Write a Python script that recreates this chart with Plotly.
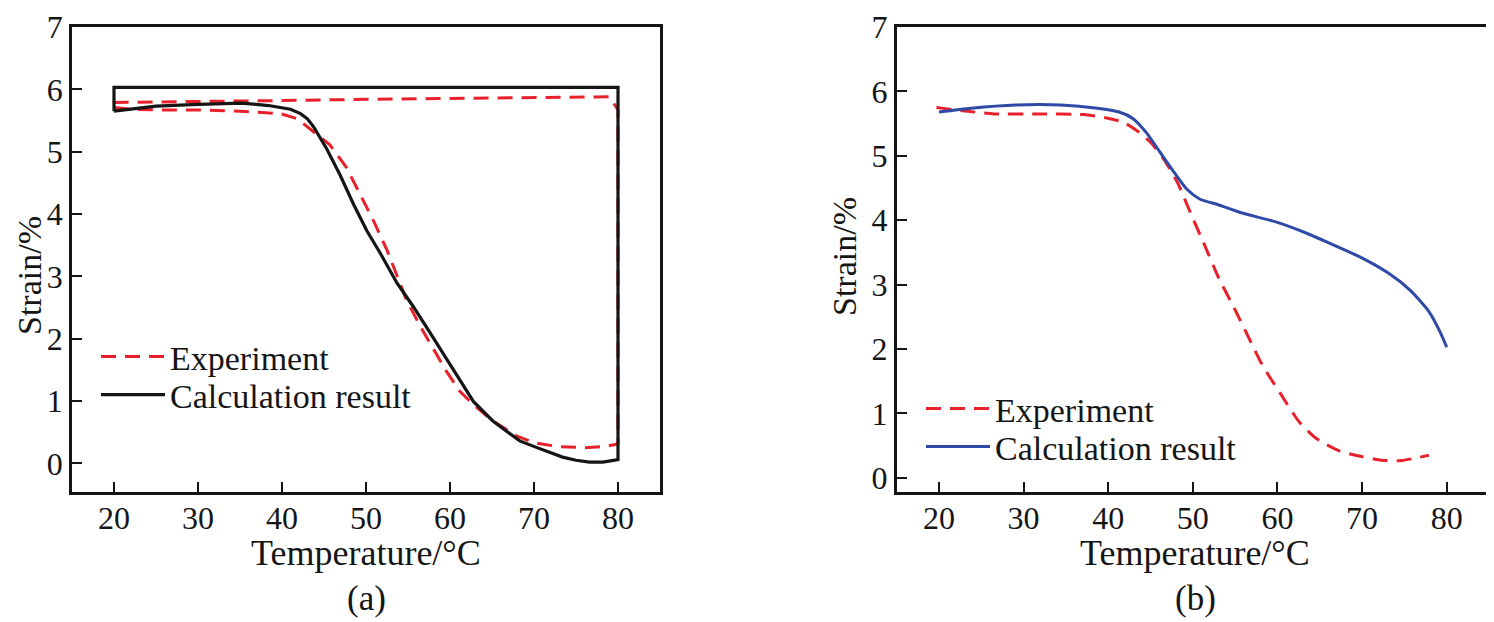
import plotly.graph_objects as go

# ---------------- data ----------------
# Panel (a): experiment loop (heating branch, then return along 80 °C and top branch)
a_exp_temp = [20, 22, 25, 30, 35, 38, 39.8, 41.8, 43.75, 45.7, 47.7, 49.3, 50.9, 52.5,
              53.7, 54.8, 56.4, 58.0, 59.6, 61.2, 62.8, 65.1, 67.9, 70.0, 72.8, 76.0,
              78.5, 80, 80, 79, 70, 60, 50, 40, 30, 20, 20]
a_exp_strain = [5.71, 5.68, 5.67, 5.67, 5.65, 5.63, 5.61, 5.53, 5.32, 5.11, 4.74, 4.31, 3.89, 3.42,
                3.0, 2.63, 2.21, 1.84, 1.47, 1.15, 0.94, 0.68, 0.44, 0.33, 0.27, 0.25,
                0.27, 0.31, 5.67, 5.88, 5.87, 5.86, 5.84, 5.82, 5.81, 5.79, 5.71]

# Panel (a): calculation loop
a_calc_temp = [20, 25, 30, 35.2, 38.4, 39.8, 41.0, 42.2, 43.0, 43.75, 44.5, 45.3, 46.9, 48.5,
               50.1, 51.7, 53.7, 55.6, 57.6, 59.6, 61.6, 62.8, 65.1, 68.3, 70.2, 71.8, 73.4,
               75.0, 76.6, 78.2, 80, 80, 20, 20]
a_calc_strain = [5.65, 5.73, 5.76, 5.78, 5.74, 5.71, 5.68, 5.61, 5.53, 5.40, 5.24, 5.05, 4.63, 4.16,
                 3.73, 3.37, 2.89, 2.52, 2.10, 1.68, 1.26, 0.99, 0.68, 0.36, 0.26, 0.175, 0.10,
                 0.05, 0.02, 0.02, 0.06, 6.03, 6.03, 5.65]

# Panel (b): experiment
b_exp_temp = [19.7, 22.8, 26.5, 31.8, 37.1, 39.7, 41.8, 43.4, 45.0, 46.6, 48.2, 49.8, 51.4,
              53.0, 55.1, 56.7, 58.3, 60.4, 62.5, 64.6, 67.3, 69.9, 72.6, 74.7, 77.9]
b_exp_strain = [5.75, 5.70, 5.65, 5.65, 5.64, 5.59, 5.52, 5.39, 5.21, 4.94, 4.58, 4.09, 3.61,
                3.12, 2.58, 2.15, 1.73, 1.30, 0.88, 0.61, 0.42, 0.33, 0.27, 0.27, 0.35]

# Panel (b): calculation
b_calc_temp = [20, 23.8, 29.1, 34.4, 38.7, 41.3, 42.9, 44.5, 46.1, 47.7, 49.3, 50.8, 53.0,
               55.6, 59.9, 63.6, 66.2, 69.9, 73.1, 75.7, 77.9, 79.2, 80]
b_calc_strain = [5.68, 5.74, 5.79, 5.79, 5.74, 5.68, 5.58, 5.36, 5.06, 4.76, 4.48, 4.33, 4.24,
                 4.12, 3.97, 3.79, 3.64, 3.42, 3.18, 2.91, 2.58, 2.27, 2.03]

x_ticks = [20, 30, 40, 50, 60, 70, 80]
y_ticks = [0, 1, 2, 3, 4, 5, 6, 7]
series_names = ["Experiment", "Calculation result"]
x_title = "Temperature/°C"
y_title = "Strain/%"
panel_labels = ["(a)", "(b)"]

# ---------------- styling ----------------
FONT = "Liberation Serif"
RED = "#e8202a"
BLACK = "#151515"
BLUE = "#2f4aa6"
W, H = 1494, 622
OFF = 8  # page body margin in the browser

def sx(p):
    return (p - OFF) / W

def sy(p):
    return 1 - (p - OFF) / H

DASH = "15px,9px"
fig = go.Figure()
fig.add_trace(go.Scatter(x=a_exp_temp, y=a_exp_strain, mode="lines", name=series_names[0],
                         line=dict(color=RED, width=3, dash=DASH),
                         xaxis="x", yaxis="y", legend="legend"))
fig.add_trace(go.Scatter(x=a_calc_temp, y=a_calc_strain, mode="lines", name=series_names[1],
                         line=dict(color=BLACK, width=3.2),
                         xaxis="x", yaxis="y", legend="legend2"))
fig.add_trace(go.Scatter(x=b_exp_temp, y=b_exp_strain, mode="lines", name=series_names[0],
                         line=dict(color=RED, width=3, dash=DASH, shape="spline", smoothing=0.6),
                         xaxis="x2", yaxis="y2", legend="legend3"))
fig.add_trace(go.Scatter(x=b_calc_temp, y=b_calc_strain, mode="lines", name=series_names[1],
                         line=dict(color=BLUE, width=3, shape="spline", smoothing=0.6),
                         xaxis="x2", yaxis="y2", legend="legend4"))

axis_common = dict(showline=True, linecolor=BLACK, linewidth=2.6, mirror=True,
                   ticks="inside", ticklen=10, tickwidth=2.4, tickcolor=BLACK,
                   showgrid=False, zeroline=False, automargin=False,
                   ticklabeloverflow="allow",
                   tickfont=dict(family=FONT, size=32, color=BLACK))

LEG_FONT = dict(family=FONT, size=34, color=BLACK)

def legend_at(x_px, y_px):
    return dict(x=sx(x_px), y=sy(y_px), xanchor="left", yanchor="middle",
                bgcolor="rgba(0,0,0,0)", font=LEG_FONT, itemwidth=64,
                borderwidth=0)

fig.update_layout(
    template="none",
    width=W, height=H,
    margin=dict(l=0, r=0, t=0, b=0, pad=0),
    paper_bgcolor="white", plot_bgcolor="white",
    font=dict(family=FONT, size=32, color=BLACK),
    showlegend=True,
    xaxis=dict(domain=[sx(72), sx(660)], range=[15, 85], tickvals=x_ticks,
               anchor="y", ticklabelstandoff=-4, **axis_common),
    yaxis=dict(domain=[sy(492), sy(27)], range=[-0.46, 7], tickvals=y_ticks,
               anchor="x", ticklabelstandoff=0, **axis_common),
    xaxis2=dict(domain=[sx(896.7), sx(1489)], range=[15, 85], tickvals=x_ticks,
                anchor="y2", ticklabelstandoff=-4, **axis_common),
    yaxis2=dict(domain=[sy(492), sy(27)], range=[-0.22, 7], tickvals=y_ticks,
                anchor="x2", ticklabelstandoff=0, **axis_common),
    legend=legend_at(96, 357),
    legend2=legend_at(96, 395),
    legend3=legend_at(921, 409),
    legend4=legend_at(921, 447),
)

annos = [
    dict(text=x_title, x=sx(366), y=sy(553), size=36),
    dict(text=x_title, x=sx(1195), y=sy(553), size=36),
    dict(text=y_title, x=sx(29), y=sy(276), textangle=-90, size=34),
    dict(text=y_title, x=sx(844), y=sy(257), textangle=-90, size=34),
    dict(text=panel_labels[0], x=sx(366), y=sy(598), size=35),
    dict(text=panel_labels[1], x=sx(1195), y=sy(598), size=35),
]
for a in annos:
    size = a.pop("size")
    fig.add_annotation(xref="paper", yref="paper", showarrow=False,
                       xanchor="center", yanchor="middle",
                       font=dict(family=FONT, size=size, color=BLACK), **a)

fig.write_html("out.html")
